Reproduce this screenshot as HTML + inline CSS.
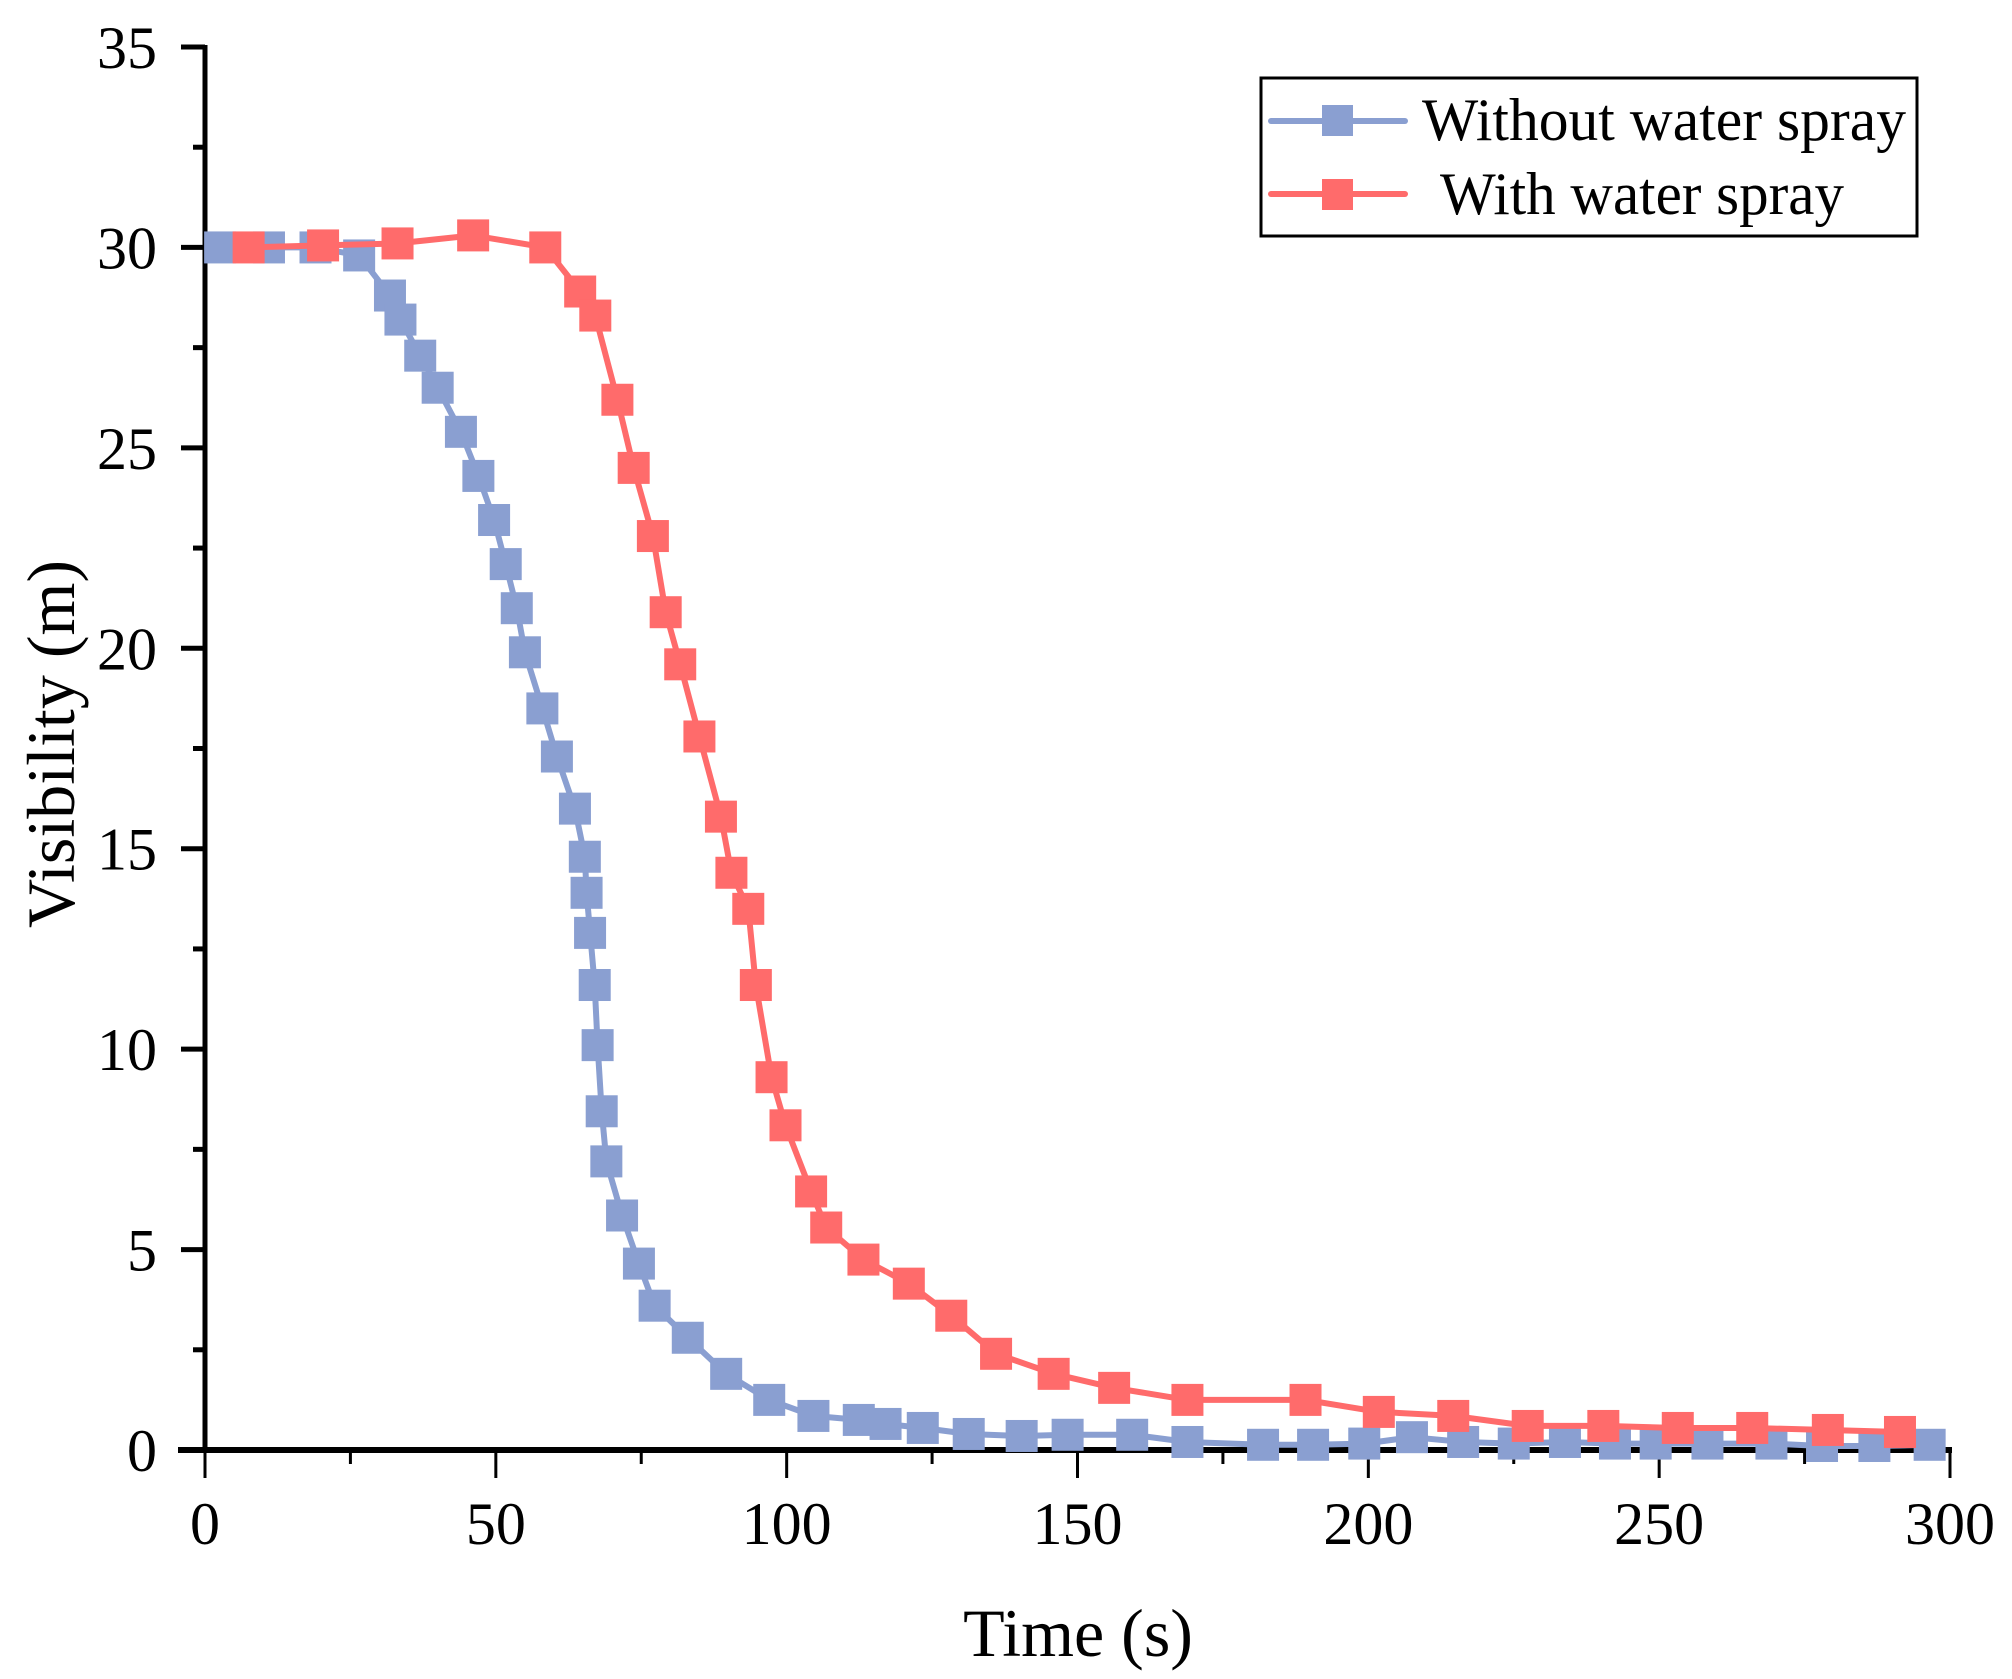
<!DOCTYPE html>
<html><head><meta charset="utf-8"><style>
html,body{margin:0;padding:0;background:#fff}
svg{display:block}
text{font-family:"Liberation Serif",serif;fill:#000}
</style></head><body>
<svg id="chart" width="2012" height="1679" viewBox="0 0 2012 1679" xmlns="http://www.w3.org/2000/svg">
<g id="axes"></g>
<g id="series"></g>
<g id="legend">
<rect x="1261" y="78" width="656" height="158" fill="#fff" stroke="#000" stroke-width="3"/>
<g>
<line x1="1271" y1="121" x2="1405" y2="121" stroke="#8a9fd1" stroke-width="6" stroke-linecap="round"/>
<rect x="1322" y="105" width="31" height="31" fill="#8a9fd1"/>
<text x="1422" y="140" font-size="60" textLength="484" lengthAdjust="spacingAndGlyphs">Without water spray</text>
</g>
<g>
<line x1="1271" y1="194" x2="1405" y2="194" stroke="#ff6b6b" stroke-width="6" stroke-linecap="round"/>
<rect x="1322" y="179" width="31" height="31" fill="#ff6b6b"/>
<text x="1440" y="214" font-size="60" textLength="404" lengthAdjust="spacingAndGlyphs">With water spray</text>
</g>
</g>
</svg>
<script>
const xTicks = [0,50,100,150,200,250,300];
const yTicks = [0,5,10,15,20,25,30,35];
const tWithout = [2.6,11,19,26.5,31.8,33.6,37,40,44,47,49.7,51.7,53.6,55,58,60.5,63.6,65.3,65.6,66.2,67,67.5,68.2,69,71.7,74.6,77.3,83,89.6,97,104.6,112.4,117,123.4,131.3,140.4,148.3,159.4,168.9,181.9,190.5,199.3,207.5,216.3,225,233.8,242.4,249.4,258.3,269.3,278,287,296.5];
const vWithout = [30,30,30,29.8,28.8,28.2,27.3,26.5,25.4,24.3,23.2,22.1,21.0,19.9,18.5,17.3,16.0,14.8,13.9,12.9,11.6,10.1,8.45,7.2,5.85,4.65,3.6,2.8,1.9,1.25,0.85,0.75,0.65,0.55,0.4,0.35,0.38,0.38,0.2,0.13,0.13,0.16,0.32,0.2,0.16,0.2,0.16,0.16,0.16,0.16,0.1,0.1,0.13];
const tWith = [7.5,20.3,33.1,46.1,58.5,64.5,67.1,70.9,73.7,77,79.2,81.7,85,88.7,90.5,93.4,94.7,97.4,99.8,104.2,106.8,113.2,121,128.3,136,145.9,156.3,168.9,189.2,201.8,214.6,227.4,240.4,253.2,266,279,291.4];
const vWith = [30,30.05,30.1,30.3,30,28.9,28.3,26.2,24.5,22.8,20.9,19.6,17.8,15.8,14.4,13.5,11.6,9.3,8.1,6.45,5.55,4.75,4.15,3.35,2.4,1.9,1.55,1.25,1.25,0.95,0.85,0.6,0.6,0.55,0.55,0.5,0.45];

const X0=205, X1=1950, Y0=1450, Y1=47;
const xs = t => X0 + (t-0)/(300-0)*(X1-X0);
const ys = v => Y0 - (v-0)/(35-0)*(Y0-Y1);
const NS="http://www.w3.org/2000/svg";
function mk(tag, attrs, parent){const e=document.createElementNS(NS,tag);for(const k in attrs)e.setAttribute(k,attrs[k]);parent.appendChild(e);return e;}
const axes=document.getElementById('axes');
const series=document.getElementById('series');

let el=mk('line',{x1:X0,y1:Y1-2,x2:X0,y2:Y0+3,stroke:'#000','stroke-width':5},axes);


el=mk('line',{x1:178,y1:Y0,x2:X1+2,y2:Y0,stroke:'#000','stroke-width':6},axes);


for(let i=0;i<yTicks.length;i++){
  const v=yTicks[i], y=ys(v);
  el=mk('line',{x1:X0-24,y1:y,x2:X0,y2:y,stroke:'#000','stroke-width':5},axes);
  
  
  const t=mk('text',{x:157,y:y+21,'font-size':60,'text-anchor':'end'},axes);
  t.textContent=v;
  
  
  if(i<yTicks.length-1){
    const ym=ys(v+2.5);
    el=mk('line',{x1:X0-12,y1:ym,x2:X0,y2:ym,stroke:'#000','stroke-width':5},axes);
    
    
  }
}
for(let i=0;i<xTicks.length;i++){
  const v=xTicks[i], x=xs(v);
  el=mk('line',{x1:x,y1:Y0,x2:x,y2:Y0+28,stroke:'#000','stroke-width':3},axes);
  
  
  const t=mk('text',{x:x,y:1544,'font-size':60,'text-anchor':'middle'},axes);
  t.textContent=v;
  
  
  if(i<xTicks.length-1){
    const xm=xs(v+25);
    el=mk('line',{x1:xm,y1:Y0,x2:xm,y2:Y0+14,stroke:'#000','stroke-width':3},axes);
    
    
  }
}
let tt=mk('text',{x:1078,y:1656,'font-size':68,'text-anchor':'middle'},axes);
tt.textContent='Time (s)';


tt=mk('text',{x:0,y:0,'font-size':68,'text-anchor':'middle',transform:'translate(74,744) rotate(-90)'},axes);
tt.textContent='Visibility (m)';



function drawSeries(ts, vs, color, name){
  const g=mk('g',{},series);
  
  
  const pts=ts.map((t,i)=>xs(t).toFixed(1)+','+ys(vs[i]).toFixed(1)).join(' ');
  const pl=mk('polyline',{points:pts,fill:'none',stroke:color,'stroke-width':6,'stroke-linejoin':'round'},g);
  
  
  for(let i=0;i<ts.length;i++){
    const r=mk('rect',{x:xs(ts[i])-16,y:ys(vs[i])-16,width:32,height:32,fill:color},g);
    
    
  }
}
drawSeries(tWithout,vWithout,'#8a9fd1','series-without-spray');
drawSeries(tWith,vWith,'#ff6b6b','series-with-spray');
</script>
</body></html>
